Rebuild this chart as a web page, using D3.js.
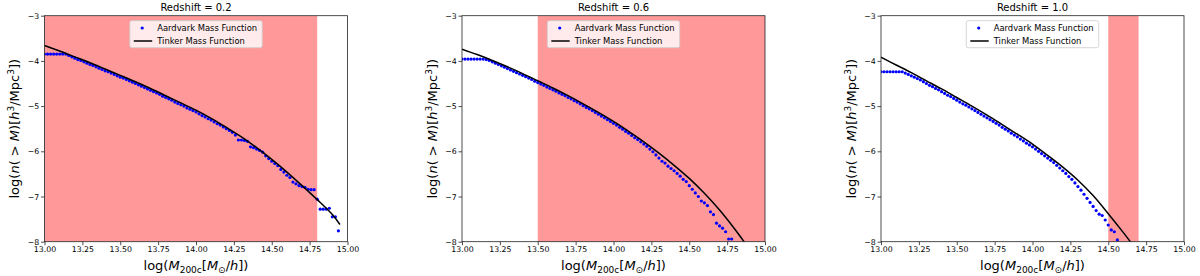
<!DOCTYPE html>
<meta charset="utf-8">
<head>
    <title>Aardvark vs Tinker mass function</title>
    <script src="https://d3js.org/d3.v7.min.js"></script>
</head>
<style type="text/css">
body {
    margin: 0;
    background: #ffffff;
}
svg text {
    font-family: "DejaVu Sans", sans-serif;
    fill: #000;
}
.tick text {
    font-size: 7.8px;
}
</style>
<body>
<svg id="chart" width="1200" height="276"></svg>

<script type="text/javascript">
// mass bins of the Aardvark halo counts, log(M200c)
var massBins = [13.00, 13.02, 13.04, 13.06, 13.08, 13.10, 13.12, 13.14, 13.16, 13.18,
    13.20, 13.22, 13.24, 13.26, 13.28, 13.30, 13.32, 13.34, 13.36, 13.38,
    13.40, 13.42, 13.44, 13.46, 13.48, 13.50, 13.52, 13.54, 13.56, 13.58,
    13.60, 13.62, 13.64, 13.66, 13.68, 13.70, 13.72, 13.74, 13.76, 13.78,
    13.80, 13.82, 13.84, 13.86, 13.88, 13.90, 13.92, 13.94, 13.96, 13.98,
    14.00, 14.02, 14.04, 14.06, 14.08, 14.10, 14.12, 14.14, 14.16, 14.18,
    14.20, 14.22, 14.24, 14.26, 14.28, 14.30, 14.32, 14.34, 14.36, 14.38,
    14.40, 14.42, 14.44, 14.46, 14.48, 14.50, 14.52, 14.54, 14.56, 14.58,
    14.60, 14.62, 14.64, 14.66, 14.68, 14.70, 14.72, 14.74, 14.76, 14.78,
    14.80, 14.82, 14.84, 14.86, 14.88, 14.90, 14.92, 14.94];

// log n(>M), one value per bin (only the visible ones)
var aardvarkZ02 = [-3.85, -3.85, -3.85, -3.85, -3.85, -3.85, -3.85, -3.85, -3.88, -3.91,
    -3.94, -3.97, -3.99, -4.02, -4.05, -4.08, -4.10, -4.13, -4.16, -4.19,
    -4.22, -4.24, -4.27, -4.30, -4.33, -4.36, -4.38, -4.41, -4.44, -4.47,
    -4.50, -4.53, -4.56, -4.59, -4.62, -4.65, -4.68, -4.71, -4.74, -4.78,
    -4.81, -4.84, -4.87, -4.91, -4.94, -4.97, -5.00, -5.04, -5.07, -5.10,
    -5.13, -5.17, -5.21, -5.24, -5.28, -5.31, -5.35, -5.39, -5.42, -5.46,
    -5.50, -5.54, -5.58, -5.64, -5.75, -5.75, -5.76, -5.78, -5.90, -5.92,
    -5.95, -5.98, -6.02, -6.10, -6.16, -6.22, -6.27, -6.32, -6.40, -6.46,
    -6.53, -6.58, -6.68, -6.72, -6.76, -6.78, -6.80, -6.84, -6.85, -6.85,
    -7.06, -7.28, -7.28, -7.28, -7.26, -7.45, -7.45, -7.76];

var aardvarkZ06 = [-3.96, -3.96, -3.96, -3.96, -3.96, -3.96, -3.96, -3.96, -3.97, -3.99,
    -4.02, -4.05, -4.08, -4.11, -4.14, -4.17, -4.20, -4.23, -4.26, -4.29,
    -4.32, -4.35, -4.38, -4.41, -4.45, -4.48, -4.51, -4.54, -4.58, -4.61,
    -4.64, -4.67, -4.71, -4.74, -4.77, -4.81, -4.84, -4.88, -4.91, -4.95,
    -4.99, -5.03, -5.06, -5.10, -5.14, -5.18, -5.22, -5.26, -5.30, -5.34,
    -5.38, -5.42, -5.47, -5.51, -5.56, -5.60, -5.65, -5.70, -5.74, -5.79,
    -5.84, -5.89, -5.95, -6.01, -6.08, -6.15, -6.22, -6.26, -6.33, -6.38,
    -6.43, -6.49, -6.55, -6.62, -6.67, -6.76, -6.84, -6.92, -7.00, -7.10,
    -7.14, -7.20, -7.34, -7.40, -7.59, -7.65, -7.70, -7.78, -7.94, -7.94];

var aardvarkZ10 = [-4.24, -4.24, -4.24, -4.24, -4.24, -4.24, -4.24, -4.24, -4.27, -4.30,
    -4.33, -4.36, -4.39, -4.42, -4.46, -4.50, -4.54, -4.57, -4.61, -4.64,
    -4.68, -4.72, -4.76, -4.79, -4.83, -4.87, -4.91, -4.95, -4.98, -5.02,
    -5.06, -5.10, -5.14, -5.18, -5.22, -5.26, -5.30, -5.34, -5.38, -5.42,
    -5.47, -5.51, -5.55, -5.60, -5.64, -5.68, -5.73, -5.77, -5.82, -5.86,
    -5.90, -5.95, -6.00, -6.05, -6.10, -6.15, -6.20, -6.25, -6.31, -6.37,
    -6.43, -6.49, -6.56, -6.62, -6.70, -6.78, -6.86, -6.95, -7.04, -7.13,
    -7.22, -7.31, -7.39, -7.42, -7.52, -7.63, -7.74, -7.78, -7.96];

// Tinker prediction, sampled on a coarser grid
var tinkerMass = [13.0, 13.1, 13.2, 13.3, 13.4, 13.5, 13.6, 13.7, 13.8, 13.9,
    14.0, 14.1, 14.2, 14.3, 14.4, 14.5, 14.6, 14.7, 14.8, 14.9, 14.95];
var tinkerZ02 = [-3.66, -3.78, -3.91, -4.04, -4.18, -4.32, -4.46, -4.61, -4.77, -4.93,
    -5.09, -5.27, -5.47, -5.68, -5.92, -6.18, -6.46, -6.76, -7.07, -7.40, -7.62];
var tinkerZ06 = [-3.74, -3.86, -3.99, -4.13, -4.28, -4.44, -4.60, -4.77, -4.95, -5.14,
    -5.34, -5.56, -5.79, -6.04, -6.31, -6.60, -6.93, -7.30, -7.72, -8.18];
var tinkerZ10 = [-3.92, -4.09, -4.26, -4.44, -4.62, -4.81, -5.00, -5.20, -5.41, -5.62,
    -5.84, -6.09, -6.35, -6.64, -6.98, -7.38, -7.80, -8.24];

var redshiftTitles = ["Redshift = 0.2", "Redshift = 0.6", "Redshift = 1.0"];
var shadeLo = [13.0, 13.5, 14.5];
var shadeHi = [14.8, 15.0, 14.7];
var xTicks = [13.00, 13.25, 13.50, 13.75, 14.00, 14.25, 14.50, 14.75, 15.00];
var yTicks = [-8, -7, -6, -5, -4, -3];
var legendLabels = ["Aardvark Mass Function", "Tinker Mass Function"];

var aardvark = [aardvarkZ02, aardvarkZ06, aardvarkZ10];
var tinker = [tinkerZ02, tinkerZ06, tinkerZ10];

// layout
var panelLeft = [44.5, 462, 881],
    plotTop = 15.7,
    width = 303,
    height = 226;

var svg = d3.select("#chart");

for (var i = 0; i < 3; i++) {
    drawPanel(i);
}

function drawPanel(i) {
    var g = svg.append("g").attr("transform", "translate(" + panelLeft[i] + "," + plotTop + ")");
    var x = d3.scaleLinear().domain([13, 15]).range([0, width]);
    var y = d3.scaleLinear().domain([-8, -3]).range([height, 0]);

    g.append("clipPath").attr("id", "clip" + i)
        .append("rect").attr("width", width).attr("height", height);

    var plot = g.append("g").attr("clip-path", "url(#clip" + i + ")");

    // shaded mass range
    plot.append("rect")
        .attr("x", x(shadeLo[i]))
        .attr("y", 0)
        .attr("width", x(shadeHi[i]) - x(shadeLo[i]))
        .attr("height", height)
        .attr("fill", "#ff9999");

    // Aardvark points
    plot.selectAll("circle")
        .data(aardvark[i])
        .enter().append("circle")
        .attr("cx", function(d, j) { return x(massBins[j]); })
        .attr("cy", function(d) { return y(d); })
        .attr("r", 1.6)
        .attr("fill", "#0000ff");

    // Tinker curve
    var line = d3.line()
        .x(function(d, j) { return x(tinkerMass[j]); })
        .y(function(d) { return y(d); })
        .curve(d3.curveCatmullRom);
    plot.append("path")
        .datum(tinker[i])
        .attr("d", line)
        .attr("fill", "none")
        .attr("stroke", "#000")
        .attr("stroke-width", 1.5);

    // axes
    var xAxis = g.append("g")
        .attr("transform", "translate(0," + height + ")")
        .call(d3.axisBottom(x).tickValues(xTicks).tickFormat(d3.format(".2f"))
            .tickSize(3.5).tickSizeOuter(0).tickPadding(1));
    var yAxis = g.append("g")
        .call(d3.axisLeft(y).tickValues(yTicks).tickFormat(d3.format("d"))
            .tickSize(3.5).tickSizeOuter(0).tickPadding(1.8));
    [xAxis, yAxis].forEach(function(a) {
        a.select(".domain").remove();
        a.selectAll("line").attr("stroke", "#222").attr("stroke-width", 0.8);
        a.selectAll("text").attr("fill", "#333").style("font-family", "DejaVu Sans");
    });

    g.append("rect")
        .attr("width", width).attr("height", height)
        .attr("fill", "none").attr("stroke", "#222").attr("stroke-width", 0.8);

    // title
    g.append("text")
        .attr("x", width / 2).attr("y", -4.6)
        .attr("text-anchor", "middle")
        .style("font-size", "10px")
        .text(redshiftTitles[i]);

    // x label: log(M_200c[M_sun/h])
    var xl = g.append("text")
        .attr("x", width / 2).attr("y", 254.3)
        .attr("text-anchor", "middle")
        .style("font-size", "13px");
    xl.append("tspan").text("log(");
    xl.append("tspan").style("font-style", "italic").text("M");
    xl.append("tspan").attr("dy", 3).style("font-size", "9px").text("200c");
    xl.append("tspan").attr("dy", -3).text("[");
    xl.append("tspan").style("font-style", "italic").text("M");
    xl.append("tspan").attr("dy", 3).style("font-size", "9px").text("\u2299");
    xl.append("tspan").attr("dy", -3).text("/");
    xl.append("tspan").style("font-style", "italic").text("h");
    xl.append("tspan").text("])");

    // y label: log(n(>M)[h^3/Mpc^3])
    var yl = g.append("text")
        .attr("transform", "translate(-25.5," + (height / 2) + ") rotate(-90)")
        .attr("text-anchor", "middle")
        .style("font-size", "13px");
    yl.append("tspan").text("log(");
    yl.append("tspan").style("font-style", "italic").text("n");
    yl.append("tspan").text("( > ");
    yl.append("tspan").style("font-style", "italic").text("M");
    yl.append("tspan").text(")[");
    yl.append("tspan").style("font-style", "italic").text("h");
    yl.append("tspan").attr("dy", -5).style("font-size", "9px").text("3");
    yl.append("tspan").attr("dy", 5).text("/Mpc");
    yl.append("tspan").attr("dy", -5).style("font-size", "9px").text("3");
    yl.append("tspan").attr("dy", 5).text("])");

    // legend, upper centre
    var lw = 132.4, lh = 27;
    var leg = g.append("g").attr("transform", "translate(" + (width / 2 - lw / 2) + ",5)");
    leg.append("rect")
        .attr("width", lw).attr("height", lh).attr("rx", 2)
        .attr("fill", "#ffffff").attr("fill-opacity", 0.8)
        .attr("stroke", "#cccccc").attr("stroke-width", 0.8);
    leg.append("circle")
        .attr("cx", 12.4).attr("cy", 7.3).attr("r", 1.6).attr("fill", "#0000ff");
    leg.append("line")
        .attr("x1", 4).attr("x2", 22.4).attr("y1", 20.3).attr("y2", 20.3)
        .attr("stroke", "#000").attr("stroke-width", 1.5);
    leg.selectAll(".lab")
        .data(legendLabels)
        .enter().append("text")
        .attr("class", "lab")
        .attr("x", 27.4)
        .attr("y", function(d, j) { return 10.3 + j * 13; })
        .style("font-size", "8.4px")
        .text(function(d) { return d; });
}
</script>
</body>
